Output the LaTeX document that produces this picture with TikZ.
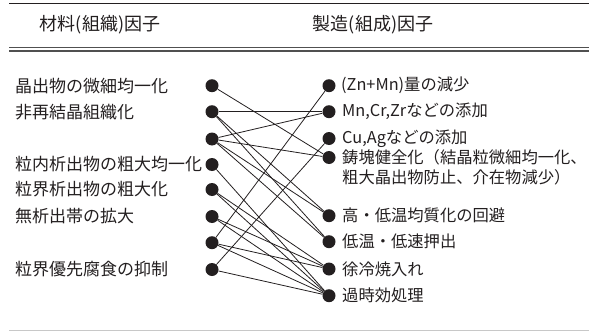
\documentclass[tikz,border=0pt]{standalone}
\usepackage{fontspec}
\setmainfont{Noto Sans CJK JP}
\definecolor{ink}{HTML}{231F20}
\definecolor{rulegray}{HTML}{C8C8C8}
\definecolor{rulegray2}{HTML}{505050}
\begin{document}
\begin{tikzpicture}[x=1pt,y=-1pt,
  dot/.style={circle,fill=ink,inner sep=0pt,minimum size=13pt},
  lab/.style={anchor=west,inner sep=0pt,text=ink,font=\fontsize{17}{20}\selectfont},
  rlab/.style={anchor=west,inner sep=0pt,text=ink,font=\fontsize{16.3}{20}\selectfont},
  head/.style={inner sep=0pt,text=ink,font=\fontsize{18}{22}\selectfont},
  link/.style={draw=ink,line width=0.8pt}]
\useasboundingbox (0,0) rectangle (589,332);
% rules
\draw[ink,line width=1.1pt] (9,3.5) -- (589,3.5);
\draw[rulegray2,line width=1.1pt] (9,47.5) -- (589,47.5);
\draw[rulegray2,line width=1.1pt] (9,51) -- (589,51);
\draw[rulegray,line width=1pt] (9,330) -- (589,330);
% headers
\node[head] (h1) at (100,25) {材料(組織)因子};
\node[head] (h2) at (373,25) {製造(組成)因子};
% left dots
\node[dot] (l1) at (212,85.7) {};
\node[dot] (l2) at (212,111.7) {};
\node[dot] (l3) at (212,139) {};
\node[dot] (l4) at (212,164.5) {};
\node[dot] (l5) at (212,189.5) {};
\node[dot] (l6) at (212,216.5) {};
\node[dot] (l7) at (212,242.7) {};
\node[dot] (l8) at (212,269.5) {};
% right dots
\node[dot] (r1) at (329,85.7) {};
\node[dot] (r2) at (329,111.7) {};
\node[dot] (r3) at (329,138.5) {};
\node[dot] (r4) at (329,157.5) {};
\node[dot] (r5) at (329,215.7) {};
\node[dot] (r6) at (329,241.7) {};
\node[dot] (r7) at (329,269) {};
\node[dot] (r8) at (329,295.7) {};
% left labels
\node[lab] (a1) at (15,85.7) {晶出物の微細均一化};
\node[lab] (a2) at (15,111.7) {非再結晶組織化};
\node[lab] (a4) at (15,164.5) {粒内析出物の粗大均一化};
\node[lab] (a5) at (15,189.5) {粒界析出物の粗大化};
\node[lab] (a6) at (15,216.5) {無析出帯の拡大};
\node[lab] (a8) at (15,269.5) {粒界優先腐食の抑制};
% right labels
\node[rlab] (b1) at (341,85.7) {(Zn+Mn)量の減少};
\node[rlab] (b2) at (342,111.7) {Mn,Cr,Zrなどの添加};
\node[rlab] (b3) at (342,138.5) {Cu,Agなどの添加};
\node[rlab] (b4) at (342,157.5) {鋳塊健全化（結晶粒微細均一化、};
\node[rlab] (b4b) at (342,177.5) {粗大晶出物防止、介在物減少）};
\node[rlab] (b5) at (342,215.7) {高・低温均質化の回避};
\node[rlab] (b6) at (342,241.7) {低温・低速押出};
\node[rlab] (b7) at (342,269) {徐冷焼入れ};
\node[rlab] (b8) at (342,295.7) {過時効処理};
% links
\draw[link] (l1) -- (r4);
\draw[link] (l2) -- (r2);
\draw[link] (l2) -- (r5);
\draw[link] (l2) -- (r6);
\draw[link] (l3) -- (r2);
\draw[link] (l3) -- (r4);
\draw[link] (l3) -- (r5);
\draw[link] (l3) -- (r6);
\draw[link] (l4) -- (r8);
\draw[link] (l5) -- (r7);
\draw[link] (l5) -- (r8);
\draw[link] (l6) -- (r7);
\draw[link] (l6) -- (r8);
\draw[link] (l7) -- (r1);
\draw[link] (l7) -- (r7);
\draw[link] (l7) -- (r8);
\draw[link] (l8) -- (r3);
\draw[link] (l8) -- (r8);
\end{tikzpicture}
\end{document}
